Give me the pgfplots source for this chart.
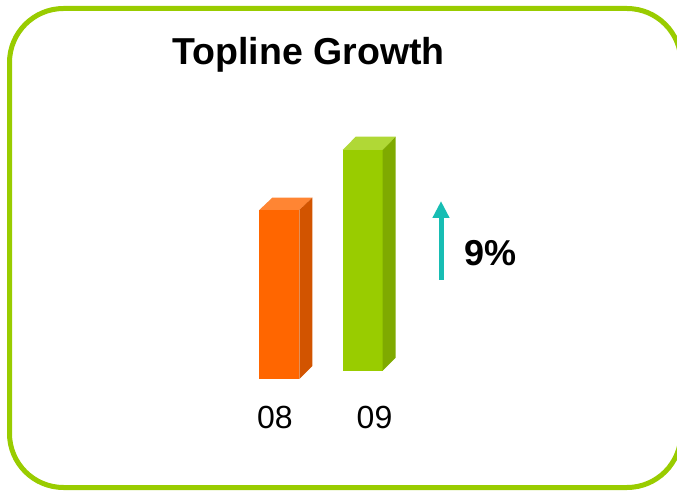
\documentclass[border=0pt]{standalone}
\usepackage{pgfplots}
\pgfplotsset{compat=1.18}
\usepackage{fontspec}
\setmainfont{Liberation Sans}
\usetikzlibrary{arrows.meta}
\definecolor{lime}{HTML}{99CC00}
\definecolor{limetop}{HTML}{B0D836}
\definecolor{limeside}{HTML}{7FAA00}
\definecolor{org}{HTML}{FF6600}
\definecolor{orgtop}{HTML}{FF8533}
\definecolor{orgside}{HTML}{D25400}
\definecolor{teal2}{HTML}{17BDB3}
\begin{document}
\begin{tikzpicture}
\path[use as bounding box] (0,0) rectangle (677pt,490pt);
\clip (0,0) rectangle (677pt,490pt);
\begin{axis}[
  at={(0,0)}, anchor=south west,
  scale only axis, width=677pt, height=490pt,
  xmin=0, xmax=677, ymin=0, ymax=490,
  hide axis, clip=false,
]
% border
\draw[lime, line width=5pt, rounded corners=54pt]
  (axis cs:9.5,2.5) rectangle (axis cs:681,481.5);
% orange bar (08): front, top, side
\addplot[draw=none, fill=org] coordinates {(259.3,111) (299.3,111) (299.3,280) (259.3,280)} -- cycle;
\addplot[draw=none, fill=orgtop] coordinates {(259.3,280) (299.3,280) (312.3,292.3) (272.3,292.3)} -- cycle;
\addplot[draw=none, fill=orgside] coordinates {(299.3,111) (312.3,124) (312.3,292.3) (299.3,280)} -- cycle;
% green bar (09)
\addplot[draw=none, fill=lime] coordinates {(342.7,119.3) (382.7,119.3) (382.7,340) (342.7,340)} -- cycle;
\addplot[draw=none, fill=limetop] coordinates {(342.7,340) (382.7,340) (395.7,353.3) (355.7,353.3)} -- cycle;
\addplot[draw=none, fill=limeside] coordinates {(382.7,119.3) (395.7,132.3) (395.7,353.3) (382.7,340)} -- cycle;
% growth arrow
\addplot[teal2, line width=5pt, -{Triangle[width=16pt,length=17pt]}] coordinates {(441,210) (441,289)};
% texts
\node[anchor=base, inner sep=0, font=\fontsize{37.5}{41}\selectfont\bfseries] at (axis cs:308.5,425) {Topline Growth};
\node[anchor=base, inner sep=0, font=\fontsize{32}{36}\selectfont] at (axis cs:275,62) {08};
\node[anchor=base, inner sep=0, font=\fontsize{32}{36}\selectfont] at (axis cs:374.5,62) {09};
\node[anchor=base west, inner sep=0, font=\fontsize{36}{40}\selectfont\bfseries] at (axis cs:464.5,224) {9\%};
\end{axis}
\end{tikzpicture}
\end{document}
